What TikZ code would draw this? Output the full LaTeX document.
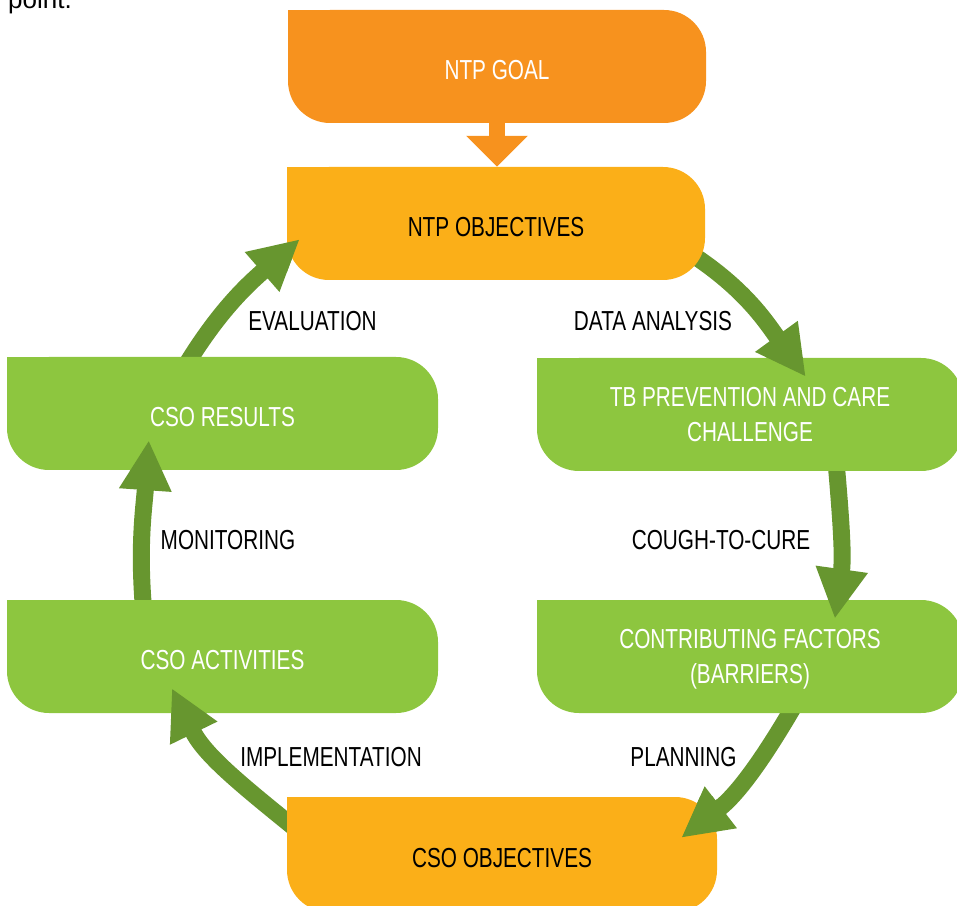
\documentclass[tikz,border=0pt]{standalone}
\usepackage{fontspec}
\setmainfont{Liberation Sans}[FakeStretch=0.755]
\newfontfamily\plainfont{Liberation Sans}
\usetikzlibrary{arrows.meta,backgrounds,calc}
\definecolor{goalc}{HTML}{F7921E}
\definecolor{objc}{HTML}{FBAF18}
\definecolor{boxg}{HTML}{8DC63F}
\definecolor{arrg}{HTML}{67962F}
\tikzset{
  stage/.style={rectangle, inner sep=0pt, minimum height=113pt, align=center,
    font=\fontsize{27.5}{35}\selectfont,
    path picture={
      \fill[#1, rounded corners=42pt] (path picture bounding box.south west) rectangle (path picture bounding box.north east);
      \fill[#1] (path picture bounding box.north west) rectangle ([xshift=50pt,yshift=-50pt]path picture bounding box.north west);
    }},
  oneline/.style={text height=26pt, text depth=0pt},
  lab/.style={inner sep=0pt, anchor=base, font=\fontsize{27.5}{35}\selectfont},
  flow/.style={draw=arrg, line width=17pt, -{Triangle[length=50pt,width=49pt]}},
}
\begin{document}
\begin{tikzpicture}[x=1pt,y=1pt]
\useasboundingbox (0,0) rectangle (957,905);
% boxes
\node[stage=goalc, oneline, minimum width=418pt, text=white] (goal) at (497,838.5) {NTP GOAL};
\node[stage=objc, oneline, minimum width=418pt, text=black] (obj) at (496,681.5) {NTP OBJECTIVES};
\node[stage=boxg, minimum width=426pt, text=white] (tb) at (750,490.5) {TB PREVENTION AND CARE\\CHALLENGE};
\node[stage=boxg, minimum width=426pt, text=white] (cf) at (750,248.5) {CONTRIBUTING FACTORS\\\smash{(BARRIERS)}};
\node[stage=boxg, oneline, minimum width=431pt, text=white] (res) at (222.5,491.5) {CSO RESULTS};
\node[stage=boxg, oneline, minimum width=431pt, text=white] (act) at (222.5,248.5) {CSO ACTIVITIES};
\node[stage=objc, oneline, minimum width=430pt, minimum height=115pt, text=black] (cso) at (502,50.5) {CSO OBJECTIVES};
% fragment of text above
\node[anchor=base west, inner sep=0pt, font=\plainfont\fontsize{26}{30}\selectfont] (pt) at (8,896) {point.};
% labels
\node[lab] (lda) at (653,574) {DATA ANALYSIS};
\node[lab] (lev) at (312.5,574) {EVALUATION};
\node[lab] (lcc) at (721,355) {COUGH-TO-CURE};
\node[lab] (lmo) at (228,355) {MONITORING};
\node[lab] (lpl) at (683.5,139) {PLANNING};
\node[lab] (lim) at (331,139) {IMPLEMENTATION};
% goal -> objectives
\draw[goalc, line width=16pt, -{Triangle[length=31pt,width=60pt]}] (goal.south) -- (goal.south |- obj.north);
% cycle arrows: full arrows behind boxes
\begin{scope}[on background layer]
\draw[flow] ($(obj.south east)+(-15,27)$) to[out=-33,in=126] ($(tb.north west)+(269,-19)$);
\draw[flow] ($(tb.south west)+(299,12)$) to[out=-85,in=82] ($(cf.north west)+(298,-19)$);
\draw[flow] ($(cf.south west)+(260,12)$) to[out=-120,in=37.6] ($(cso.north east)+(-36,-41)$);
\draw[flow] ($(cso.north west)+(10,-33)$) to[out=141,in=296] ($(act.south west)+(165,25)$);
\draw[flow] ($(act.north west)+(137,-12)$) to[out=95,in=266] ($(res.south west)+(142,30)$);
\draw[flow] ($(res.north west)+(177,-12)$) to[out=59,in=221] ($(obj.south west)+(13,41)$);
\end{scope}
% arrow heads over destination boxes
\begin{scope}
\clip (tb.south west) rectangle (tb.north east);
\draw[flow] ($(obj.south east)+(-15,27)$) to[out=-33,in=126] ($(tb.north west)+(269,-19)$);
\end{scope}
\begin{scope}
\clip (cf.south west) rectangle (cf.north east);
\draw[flow] ($(tb.south west)+(299,12)$) to[out=-85,in=82] ($(cf.north west)+(298,-19)$);
\end{scope}
\begin{scope}
\clip (cso.south west) rectangle (cso.north east);
\draw[flow] ($(cf.south west)+(260,12)$) to[out=-120,in=37.6] ($(cso.north east)+(-36,-41)$);
\end{scope}
\begin{scope}
\clip (act.south west) rectangle (act.north east);
\draw[flow] ($(cso.north west)+(10,-33)$) to[out=141,in=296] ($(act.south west)+(165,25)$);
\end{scope}
\begin{scope}
\clip (res.south west) rectangle (res.north east);
\draw[flow] ($(act.north west)+(137,-12)$) to[out=95,in=266] ($(res.south west)+(142,30)$);
\end{scope}
\begin{scope}
\clip (obj.south west) rectangle (obj.north east);
\draw[flow] ($(res.north west)+(177,-12)$) to[out=59,in=221] ($(obj.south west)+(13,41)$);
\end{scope}
\end{tikzpicture}
\end{document}
